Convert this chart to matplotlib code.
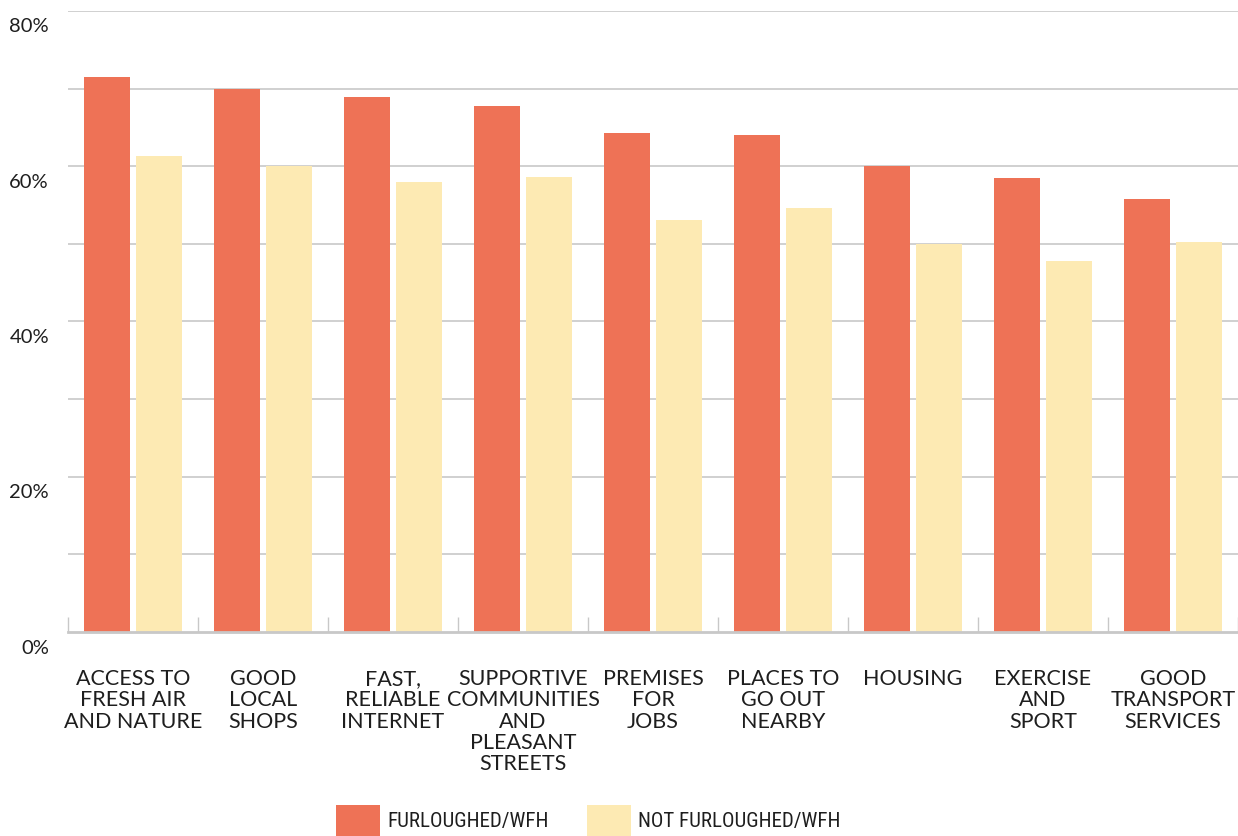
import matplotlib
matplotlib.use("Agg")
import matplotlib.pyplot as plt
import matplotlib.transforms as mtransforms
from matplotlib.patches import Patch
from matplotlib import font_manager as fm
import numpy as np

categories = [
    "ACCESS TO\nFRESH AIR\nAND NATURE",
    "GOOD\nLOCAL\nSHOPS",
    "FAST,\nRELIABLE\nINTERNET",
    "SUPPORTIVE\nCOMMUNITIES\nAND\nPLEASANT\nSTREETS",
    "PREMISES\nFOR\nJOBS",
    "PLACES TO\nGO OUT\nNEARBY",
    "HOUSING",
    "EXERCISE\nAND\nSPORT",
    "GOOD\nTRANSPORT\nSERVICES",
]
furloughed = [71.5, 70.0, 68.9, 67.8, 64.3, 64.0, 60.0, 58.5, 55.8]
not_furloughed = [61.3, 60.0, 58.0, 58.6, 53.1, 54.6, 50.0, 47.8, 50.2]
series_names = ["FURLOUGHED/WFH", "NOT FURLOUGHED/WFH"]
ytick_values = [0, 20, 40, 60, 80]
ytick_labels = ["0%", "20%", "40%", "60%", "80%"]
grid_values = [10, 20, 30, 40, 50, 60, 70, 80]

c_orange = "#EE7256"
c_yellow = "#FDEAB3"
c_grid = "#C8C8C8"
c_text = "#1E1E1E"

# pick a condensed font for the legend if one is installed
names = {f.name for f in fm.fontManager.ttflist}
legend_family = None
for cand in ["Liberation Sans Narrow", "DejaVu Sans Condensed", "Roboto Condensed",
             "Open Sans Condensed", "Noto Sans Condensed"]:
    if cand in names:
        legend_family = cand
        break
legend_stretch = "normal"
if legend_family is None:
    legend_family = "DejaVu Sans"
    legend_stretch = "condensed"

W, H = 1238, 836
fig = plt.figure(figsize=(W / 100, H / 100), dpi=100)
ax = fig.add_axes([68 / W, (H - 632) / H, 1170 / W, 621 / H])

x = np.arange(len(categories))
bw = 0.36
ax.bar(x - 0.2, furloughed, bw, color=c_orange, zorder=3)
ax.bar(x + 0.2, not_furloughed, bw, color=c_yellow, zorder=3)

ax.set_xlim(-0.5, len(categories) - 0.5)
ax.set_ylim(0, 80)

for g in grid_values:
    ax.axhline(g, color=c_grid, lw=1.2, zorder=1)

for s in ["top", "right", "left"]:
    ax.spines[s].set_visible(False)
ax.spines["bottom"].set_color(c_grid)
ax.spines["bottom"].set_linewidth(2.0)
ax.spines["bottom"].set_zorder(4)

ax.set_yticks([])
ax.set_xticks(np.arange(-0.5, len(categories) + 0.5, 1.0))
ax.set_xticklabels([])
ax.tick_params(axis="x", direction="in", length=11, width=1.0, color=c_grid)

label_font = ["Lato", "DejaVu Sans"]

# y labels (drawn below their gridlines, as in the reference)
ytrans = mtransforms.offset_copy(ax.get_yaxis_transform(), fig=fig, x=0, y=-16, units="dots")
for v, lab in zip(ytick_values, ytick_labels):
    ax.text(-19 / 1170, v, lab, transform=ytrans, ha="right", va="center",
            fontsize=14.5, color=c_text, family=label_font)

# category labels
xtrans = mtransforms.offset_copy(ax.get_xaxis_transform(), fig=fig, x=0, y=-37, units="dots")
for xi, lab in zip(x, categories):
    ax.text(xi, 0, lab, transform=xtrans, ha="center", va="top",
            fontsize=15.5, color=c_text, family=label_font, linespacing=1.08)

handles = [Patch(facecolor=c_orange, edgecolor="none", label=series_names[0]),
           Patch(facecolor=c_yellow, edgecolor="none", label=series_names[1])]
leg = fig.legend(handles=handles, loc="lower left", bbox_to_anchor=(336 / W, 0.0),
                 ncol=2, frameon=False, borderpad=0, borderaxespad=0,
                 handlelength=2.12, handleheight=1.88, handletextpad=0.33,
                 columnspacing=1.85,
                 prop={"family": legend_family, "stretch": legend_stretch, "size": 15})
for t in leg.get_texts():
    t.set_color(c_text)

fig.savefig("out.png", dpi=100)
